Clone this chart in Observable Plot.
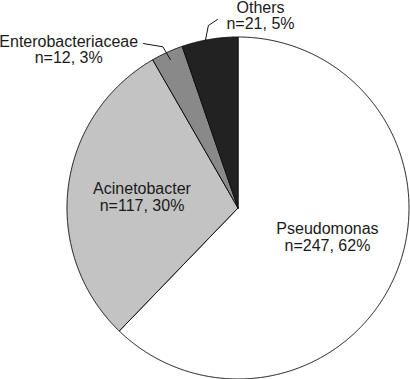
<!DOCTYPE html>
<html><head><meta charset="utf-8">
<script src="https://cdn.jsdelivr.net/npm/d3@7"></script>
<script src="https://cdn.jsdelivr.net/npm/@observablehq/plot@0.6"></script>
<style>body{margin:0;background:#fff}</style>
</head><body><div id="chart"></div>
<script>
// ---- data ----
const categories = ["Pseudomonas", "Acinetobacter", "Enterobacteriaceae", "Others"];
const counts = [247, 117, 12, 21];
const percents = [62, 30, 3, 5];
const colors = ["#ffffff", "#c3c3c3", "#898989", "#222222"];

// ---- layout ----
const W = 410, H = 379, CX = 237.5, CY = 207.5, R = 171;
const xDomain = [-CX / R, (W - CX) / R];
const yDomain = [-(H - CY) / R, CY / R];
const deg = Math.PI / 180;
const FONT = "Liberation Sans, Arial, Helvetica, sans-serif";
// label placement (angle in degrees clockwise from top, radius in pie radii)
const labelLayout = {
  Pseudomonas: {angle: 108.0, r: 0.55},
  Acinetobacter: {angle: 276.6, r: 0.565},
  Enterobacteriaceae: {angle: 313.1, r: 1.356, leader: [[0, 0.954], [-0.5, 1.04], [-5.4, 1.109]]},
  Others: {angle: 6.67, r: 1.133, leader: [[-1.5, 0.998], [0.3, 1.081], [3.3, 1.109]]}
};

const rows = categories.map((name, i) => ({name, n: counts[i], pct: percents[i]}));
const arcs = d3.pie().sort(null).value(d => d.n)(rows);
const pt = (a, r) => ({x: r * Math.sin(a), y: r * Math.cos(a)});

const slicePts = [];
for (const s of arcs) {
  const name = s.data.name;
  slicePts.push({name, ...pt(0, 0)});
  const steps = Math.max(4, Math.ceil((s.endAngle - s.startAngle) / 0.005));
  for (let k = 0; k <= steps; k++) {
    const a = s.startAngle + (s.endAngle - s.startAngle) * k / steps;
    slicePts.push({name, ...pt(a, 1)});
  }
  slicePts.push({name, ...pt(0, 0)});
}

const labels = arcs.map(s => {
  const L = labelLayout[s.data.name];
  return {...pt(L.angle * deg, L.r), text: `${s.data.name}\nn=${s.data.n}, ${s.data.pct}%`};
});

const leaders = [];
for (const s of arcs) {
  const L = labelLayout[s.data.name];
  if (!L.leader) continue;
  const mid = (s.startAngle + s.endAngle) / 2;
  for (const [da, r] of L.leader) leaders.push({name: s.data.name, ...pt(mid + da * deg, r)});
}

const chart = Plot.plot({
  width: W, height: H, margin: 0,
  x: {domain: xDomain, axis: null},
  y: {domain: yDomain, axis: null},
  color: {domain: categories, range: colors},
  style: {fontFamily: FONT, background: "#fff"},
  marks: [
    Plot.line(slicePts, {x: "x", y: "y", z: "name", fill: "name", stroke: "#111", strokeWidth: 1, curve: "linear"}),
    Plot.line(leaders, {x: "x", y: "y", z: "name", stroke: "#111", strokeWidth: 1, curve: "linear"}),
    Plot.text(labels, {x: "x", y: "y", text: "text", fontSize: 16, fontFamily: FONT, lineHeight: 1.05, textAnchor: "middle", fill: "#1a1a1a"})
  ]
});
document.getElementById("chart").appendChild(chart);
</script>
</body></html>
